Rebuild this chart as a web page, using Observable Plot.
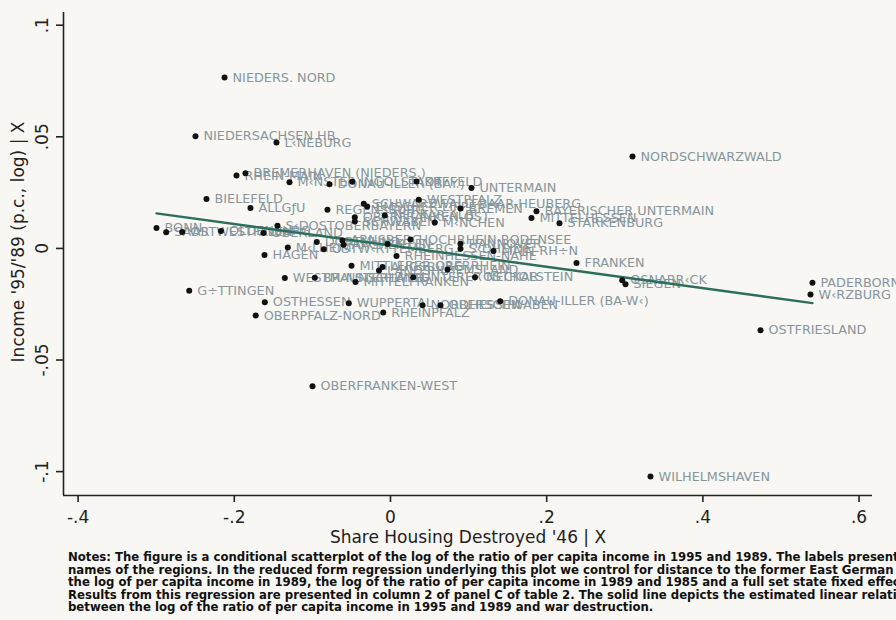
<!DOCTYPE html>
<html>
<head>
<meta charset="utf-8">
<script src="https://cdn.jsdelivr.net/npm/d3@7"></script>
<script src="https://cdn.jsdelivr.net/npm/@observablehq/plot@0.6"></script>
<style>
  html, body { margin: 0; padding: 0; background: #f8f7f3; }
  #wrap { width: 896px; height: 620px; overflow: hidden; position: relative; background: #f8f7f3; }
  #notes {
    position: absolute; left: 68px; top: 551px; width: 1000px;
    font-family: "DejaVu Sans Condensed", "DejaVu Sans", sans-serif; font-stretch: condensed;
    font-size: 13px; line-height: 12.5px; color: #111; white-space: nowrap; font-weight: 600;
  }
</style>
</head>
<body>
<div id="wrap">
  <div id="chart"></div>
  <div id="notes"></div>
</div>
<script>
// ---- data ----
const regions = [
  "NIEDERS. NORD", "NIEDERSACHSEN HB", "L\u2039NEBURG", "RHEIN-MAIN", "BREMERHAVEN (NIEDERS.)",
  "M\u2039NSTER", "DONAU-ILLER (BAY.)", "INGOLSTADT", "KREFELD", "UNTERMAIN",
  "BIELEFELD", "ALLG\u0192U", "REGENSBURG", "SCHWARZWALD-BAAR-HEUBERG", "EMSCHER-LIPPE",
  "WESTPFALZ", "BREMEN", "OBERFRANKEN-OST", "SCHWABEN", "NECKAR-ALB",
  "M\u2039NCHEN", "BAYERISCHER UNTERMAIN", "MITTELHESSEN", "STARKENBURG", "NORDSCHWARZWALD",
  "PADERBORN", "W\u2039RZBURG", "OSTFRIESLAND", "WILHELMSHAVEN", "OBERFRANKEN-WEST",
  "G\u00f7TTINGEN", "HAGEN", "OSTHESSEN", "OBERPFALZ-NORD", "WESTM\u2039NSTERLAND",
  "BONN", "SAAR", "OSTWESTFALEN", "OLDENBURG", "OBERLAND",
  "S\u2039DOSTOBERBAYERN", "M\u2039LHEIM", "DORTMUND", "OSTW\u2039RTTEMBERG", "ARNSBERG",
  "AACHEN", "K\u00f7LN", "HOCHRHEIN-BODENSEE", "RHEINHESSEN-NAHE", "HANNOVER",
  "S\u2039DHEIDE", "MAIN-RH\u00f7N", "FRANKEN", "MITTLERER OBERRHEIN", "LANDSHUT",
  "AUGSBURG", "EMSLAND", "BRAUNSCHWEIG", "MITTELFRANKEN", "UNTERER NECKAR",
  "OSTHOLSTEIN", "WUPPERTAL", "NORDHESSEN", "OBERSCHWABEN", "RHEINPFALZ",
  "DONAU-ILLER (BA-W\u2039)", "OSNABR\u2039CK", "SIEGEN"
];
const shareDestroyed = [
  -0.2125, -0.2497, -0.1460, -0.1972, -0.1857,
  -0.1293, -0.0781, -0.0490, 0.0333, 0.1037,
  -0.2356, -0.1793, -0.0807, -0.0342, -0.0298,
  0.0362, 0.0896, -0.0457, -0.0457, -0.0073,
  0.0567, 0.1869, 0.1805, 0.2164, 0.3099,
  0.5403, 0.5378, 0.4738, 0.3329, -0.0999,
  -0.2577, -0.1613, -0.1609, -0.1726, -0.1353,
  -0.2996, -0.2872, -0.2667, -0.2170, -0.1626,
  -0.1447, -0.1315, -0.0944, -0.0854, -0.0615,
  -0.0602, -0.0038, 0.0256, 0.0077, 0.0896,
  0.0896, 0.1319, 0.2382, -0.0499, -0.0147,
  -0.0102, 0.0730, -0.0969, -0.0448, 0.0291,
  0.1082, -0.0534, 0.0410, 0.0640, -0.0093,
  0.1405, 0.2967, 0.3009
];
const incomeRatio = [
  0.0766, 0.0502, 0.0475, 0.0327, 0.0337,
  0.0296, 0.0288, 0.0299, 0.0300, 0.0271,
  0.0221, 0.0181, 0.0173, 0.0200, 0.0188,
  0.0218, 0.0179, 0.0140, 0.0121, 0.0148,
  0.0116, 0.0166, 0.0136, 0.0113, 0.0412,
  -0.0154, -0.0207, -0.0367, -0.1022, -0.0618,
  -0.0190, -0.0029, -0.0241, -0.0301, -0.0132,
  0.0091, 0.0073, 0.0074, 0.0078, 0.0069,
  0.0102, 0.0004, 0.0029, -0.0004, 0.0036,
  0.0017, 0.0020, 0.0040, -0.0034, 0.0021,
  -0.0001, -0.0011, -0.0065, -0.0078, -0.0099,
  -0.0083, -0.0094, -0.0131, -0.0151, -0.0129,
  -0.0129, -0.0246, -0.0255, -0.0255, -0.0287,
  -0.0237, -0.0143, -0.0161
];
// fitted line endpoints
const fitX = [-0.2996, 0.5403];
const fitY = [0.0157, -0.0245];

const xTicks = [-0.4, -0.2, 0, 0.2, 0.4, 0.6];
const yTicks = [-0.1, -0.05, 0, 0.05, 0.1];
const xTitle = "Share Housing Destroyed '46 | X";
const yTitle = "Income '95/'89 (p.c., log) | X";
const notesLines = [
  "Notes: The figure is a conditional scatterplot of the log of the ratio of per capita income in 1995 and 1989. The labels present the",
  "names of the regions. In the reduced form regression underlying this plot we control for distance to the former East German border,",
  "the log of per capita income in 1989, the log of the ratio of per capita income in 1989 and 1985 and a full set state fixed effects.",
  "Results from this regression are presented in column 2 of panel C of table 2. The solid line depicts the estimated linear relationship",
  "between the log of the ratio of per capita income in 1995 and 1989 and war destruction."
];

// ---- build ----
const points = regions.map((name, i) => ({name, x: shareDestroyed[i], y: incomeRatio[i]}));
const fit = fitX.map((x, i) => ({x, y: fitY[i]}));
const fmt = d => d === 0 ? "0" : String(+d.toFixed(3)).replace("0.", ".");
const xDom = [-0.4187, 0.6172];
const yDom = [-0.1107, 0.1057];
const font = "DejaVu Sans, sans-serif";

const chart = Plot.plot({
  width: 896,
  height: 548,
  marginLeft: 63,
  marginRight: 24,
  marginTop: 12,
  marginBottom: 53,
  style: {background: "#f8f7f3", fontFamily: font, overflow: "visible"},
  x: {domain: xDom},
  y: {domain: yDom},
  marks: [
    Plot.text(points, {x: "x", y: "y", text: "name", dx: 8, textAnchor: "start", fill: "#86969d", fontSize: 12.8, fontFamily: font}),
    Plot.line(fit, {x: "x", y: "y", stroke: "#2c6e5c", strokeWidth: 2.4}),
    Plot.dot(points, {x: "x", y: "y", r: 3, fill: "#111", stroke: "none"}),
    Plot.ruleX([xDom[0]], {stroke: "#222", strokeWidth: 1.6}),
    Plot.ruleY([yDom[0]], {stroke: "#222", strokeWidth: 1.6}),
    Plot.axisX({ticks: xTicks, tickFormat: fmt, tickSize: 7, tickPadding: 8, fontSize: 17, label: null, stroke: "#222", strokeWidth: 1.6, fill: "#222"}),
    Plot.axisY({ticks: yTicks, tickSize: 7, tickFormat: () => "", label: null, stroke: "#222", strokeWidth: 1.6}),
    Plot.text(yTicks, {x: xDom[0], y: d => d, text: fmt, rotate: -90, dx: -21, textAnchor: "middle", lineAnchor: "middle", fontSize: 17, fill: "#222"}),
    Plot.text([xTitle], {frameAnchor: "bottom", dy: 47, textAnchor: "middle", fontSize: 17, fill: "#222"}),
    Plot.text([yTitle], {frameAnchor: "left", dx: -45, dy: -12, rotate: -90, textAnchor: "middle", fontSize: 17, fill: "#222"})
  ]
});
document.getElementById("chart").appendChild(chart);
const notes = document.getElementById("notes");
notesLines.forEach(l => { const d = document.createElement("div"); d.textContent = l; notes.appendChild(d); });
</script>
</body>
</html>
